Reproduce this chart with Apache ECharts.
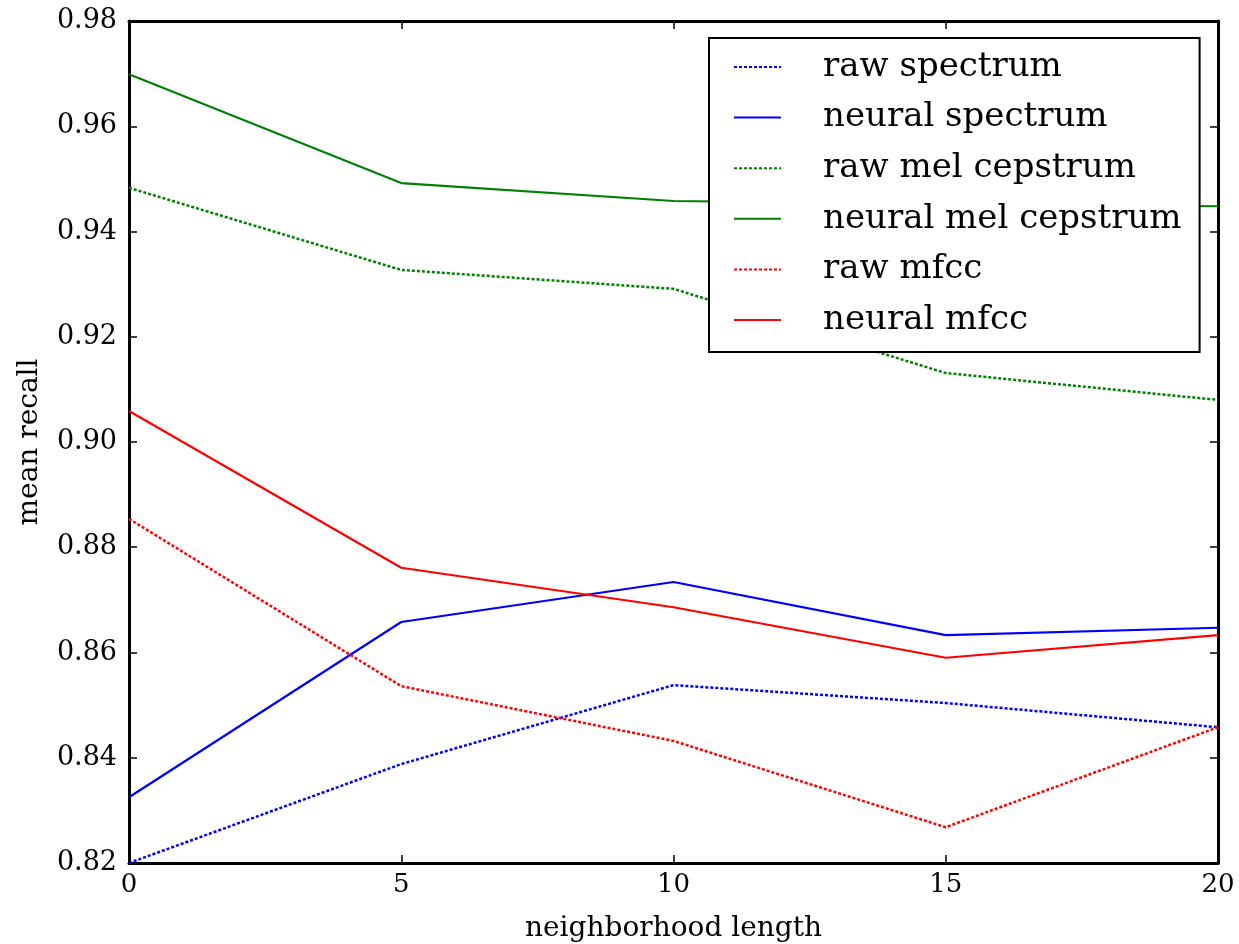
<!DOCTYPE html>
<html>
<head>
<meta charset="utf-8">
<script src="https://cdn.jsdelivr.net/npm/echarts@6/dist/echarts.min.js"></script>
<style>
  html, body { margin: 0; padding: 0; background: #fff; }
  #main { width: 1239px; height: 944px; }
</style>
</head>
<body>
<div id="main"></div>
<script>
// neighborhood length (x values)
var lengths = [0, 5, 10, 15, 20];

// mean recall for each series
var rawSpectrum = [0.8200, 0.8388, 0.8538, 0.8504, 0.8458];
var neuralSpectrum = [0.8325, 0.8658, 0.8734, 0.8633, 0.8647];
var rawMelCepstrum = [0.9483, 0.9327, 0.9291, 0.9131, 0.9080];
var neuralMelCepstrum = [0.9699, 0.9492, 0.9458, 0.9452, 0.9448];
var rawMfcc = [0.8854, 0.8536, 0.8432, 0.8268, 0.8458];
var neuralMfcc = [0.9059, 0.8761, 0.8686, 0.8590, 0.8633];

var seriesNames = ['raw spectrum', 'neural spectrum', 'raw mel cepstrum',
    'neural mel cepstrum', 'raw mfcc', 'neural mfcc'];
var seriesValues = [rawSpectrum, neuralSpectrum, rawMelCepstrum,
    neuralMelCepstrum, rawMfcc, neuralMfcc];
var seriesColors = ['#0000ff', '#0000ff', '#008000', '#008000', '#ff0000', '#ff0000'];
var seriesDotted = [true, false, true, false, true, false];

var FONT = 'DejaVu Serif';

function pairs(xs, ys) {
    var out = [];
    for (var i = 0; i < xs.length; i++) out.push([xs[i], ys[i]]);
    return out;
}

var series = [];
for (var i = 0; i < seriesNames.length; i++) {
    series.push({
        name: seriesNames[i],
        type: 'line',
        data: pairs(lengths, seriesValues[i]),
        symbol: 'none',
        silent: true,
        color: seriesColors[i],
        lineStyle: {
            width: seriesDotted[i] ? 2.5 : 2.2,
            color: seriesColors[i],
            type: seriesDotted[i] ? [3, 2] : 'solid'
        },
        z: 2
    });
}

var axisLine = { show: true, onZero: false, lineStyle: { color: '#000', width: 3 } };
var axisTick = { show: true, inside: true, length: 8, lineStyle: { color: '#000', width: 1.5 } };

var option = {
    animation: false,
    backgroundColor: '#fff',
    textStyle: { fontFamily: FONT },
    grid: {
        left: 129, right: 21, top: 21, bottom: 81,
        containLabel: false,
        outerBoundsMode: 'none'
    },
    legend: {
        orient: 'vertical',
        left: 709,
        top: 38,
        backgroundColor: '#fff',
        borderColor: '#000',
        borderWidth: 2,
        padding: [12, 18, 15, 24],
        itemWidth: 47,
        itemHeight: 14,
        itemGap: 16.6,
        selectedMode: false,
        // hide the marker that sits on the legend line
        itemStyle: { color: 'rgba(0,0,0,0)', borderColor: 'rgba(0,0,0,0)', borderWidth: 0 },
        textStyle: {
            fontFamily: FONT,
            fontSize: 34,
            lineHeight: 34,
            color: '#000',
            padding: [0, 0, 0, 37]
        },
        data: seriesNames,
        z: 10
    },
    xAxis: [{
        type: 'value',
        min: 0, max: 20, interval: 5,
        name: 'neighborhood length',
        nameLocation: 'middle',
        nameGap: 52,
        nameTextStyle: { fontFamily: FONT, fontSize: 28, color: '#000' },
        axisLine: axisLine,
        axisTick: axisTick,
        axisLabel: { fontFamily: FONT, fontSize: 26, color: '#000', margin: 9 },
        splitLine: { show: false }
    }, {
        type: 'value',
        position: 'top',
        min: 0, max: 20, interval: 5,
        axisLine: axisLine,
        axisTick: axisTick,
        axisLabel: { show: false },
        splitLine: { show: false }
    }],
    yAxis: [{
        type: 'value',
        min: 0.82, max: 0.98, interval: 0.02,
        name: 'mean recall',
        nameLocation: 'middle',
        nameGap: 85,
        nameTextStyle: { fontFamily: FONT, fontSize: 28, color: '#000' },
        axisLine: axisLine,
        axisTick: axisTick,
        axisLabel: {
            fontFamily: FONT, fontSize: 27, color: '#000', margin: 12,
            formatter: function (v) { return v.toFixed(2); }
        },
        splitLine: { show: false }
    }, {
        type: 'value',
        position: 'right',
        min: 0.82, max: 0.98, interval: 0.02,
        axisLine: axisLine,
        axisTick: axisTick,
        axisLabel: { show: false },
        splitLine: { show: false }
    }],
    series: series
};

var chart = echarts.init(document.getElementById('main'));
chart.setOption(option);
</script>
</body>
</html>
